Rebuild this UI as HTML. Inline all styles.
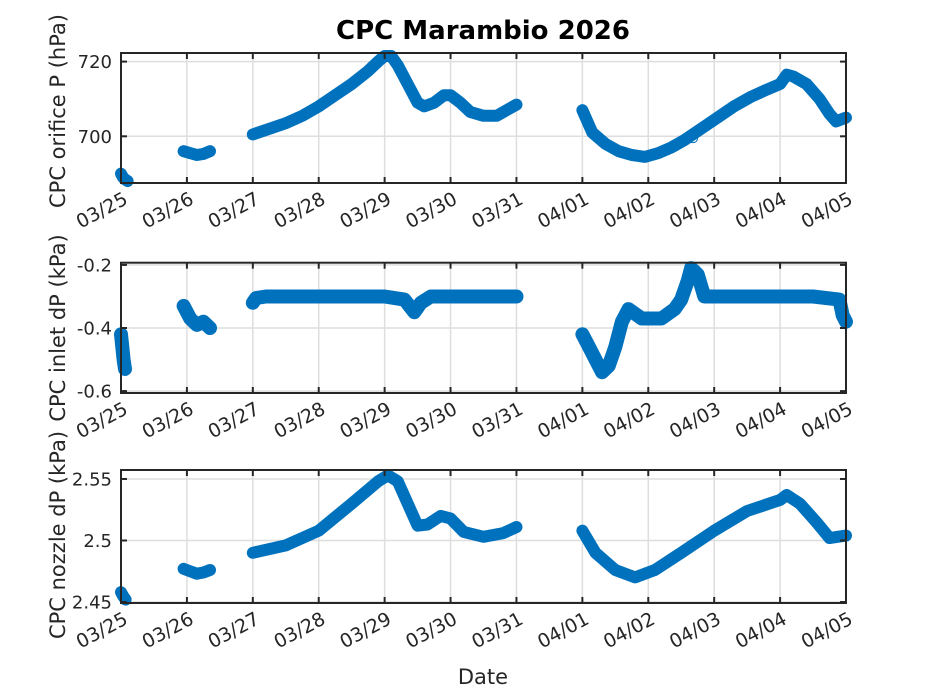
<!DOCTYPE html>
<html><head><meta charset="utf-8"><style>
body{margin:0;background:#fff}
svg{display:block;font-family:"DejaVu Sans","Liberation Sans",sans-serif}
</style></head><body>
<svg id="fig" width="933" height="700" viewBox="0 0 933 700">
<rect width="933" height="700" fill="#fff"/>
<text x="483" y="39" text-anchor="middle" font-size="26" font-weight="bold" fill="#000">CPC Marambio 2026</text>
<text x="483" y="684" text-anchor="middle" font-size="21" fill="#262626">Date</text>
</svg>
<script>
const xTickLabels=["03/25","03/26","03/27","03/28","03/29","03/30","03/31","04/01","04/02","04/03","04/04","04/05"];
// plot 1: orifice pressure (hPa)
const p1T=[[0,0.03,0.06,0.1],[0.95,1.05,1.15,1.25,1.35],[2.0,2.25,2.5,2.75,3.0,3.25,3.5,3.75,3.9,4.0,4.1,4.2,4.35,4.5,4.6,4.75,4.9,5.0,5.15,5.3,5.5,5.7,5.85,6.0],[7.0,7.15,7.35,7.55,7.75,7.95,8.15,8.35,8.55,8.8,9.05,9.3,9.55,9.8,10.0,10.1,10.2,10.4,10.6,10.75,10.85,11.0],[8.68]];
const p1V=[[690,689,688.5,688],[696,695.5,695,695.3,696],[700.5,702,703.5,705.5,708,711,714,717.5,720,721.5,721.5,719,714,709,708,709,711,711,709,706.5,705.5,705.5,707,708.5],[707,701,698,696,695,694.5,695.5,697,699,702,705,708,710.5,712.5,714,716.5,716,714,710,706,704,705],[699.5]];
const p1Ticks=[700,720];
// plot 2: inlet dP (kPa)
const p2T=[[0,0.02,0.04,0.06],[0.95,1.05,1.15,1.25,1.35],[2.0,2.05,2.2,3.0,4.0,4.3,4.45,4.55,4.7,5.0,5.5,6.0],[7.0,7.1,7.2,7.3,7.4,7.5,7.6,7.7,7.9,8.2,8.4,8.5,8.6,8.65,8.75,8.85,9.0,9.5,10.0,10.5,10.9,10.95,11.0]];
const p2V=[[-0.42,-0.46,-0.5,-0.53],[-0.33,-0.37,-0.39,-0.38,-0.4],[-0.32,-0.305,-0.3,-0.3,-0.3,-0.31,-0.35,-0.32,-0.3,-0.3,-0.3,-0.3],[-0.42,-0.46,-0.5,-0.54,-0.52,-0.46,-0.38,-0.34,-0.37,-0.37,-0.34,-0.31,-0.25,-0.21,-0.23,-0.3,-0.3,-0.3,-0.3,-0.3,-0.31,-0.36,-0.38]];
const p2Ticks=[-0.6,-0.4,-0.2];
// plot 3: nozzle dP (kPa)
const p3T=[[0,0.03,0.07],[0.95,1.05,1.15,1.25,1.35],[2.0,2.5,3.0,3.5,3.9,4.05,4.2,4.35,4.5,4.65,4.85,5.0,5.2,5.5,5.8,6.0],[7.0,7.2,7.5,7.8,8.1,8.5,9.0,9.5,10.0,10.1,10.3,10.55,10.75,11.0]];
const p3V=[[2.458,2.455,2.452],[2.477,2.475,2.473,2.474,2.476],[2.49,2.496,2.508,2.53,2.548,2.553,2.548,2.53,2.512,2.513,2.52,2.518,2.507,2.503,2.506,2.511],[2.508,2.49,2.476,2.47,2.476,2.49,2.508,2.524,2.533,2.537,2.53,2.515,2.502,2.504]];
const p3Ticks=[2.45,2.5,2.55];

const NS="http://www.w3.org/2000/svg";
const svg=document.getElementById('fig');
const X0=121,X1=846,XMAX=11;
function xs(t){return X0+(X1-X0)*t/XMAX;}
function mk(tag,attrs,parent){const e=document.createElementNS(NS,tag);for(const k in attrs)e.setAttribute(k,attrs[k]);(parent||svg).appendChild(e);return e;}

function panel(name,top,bot,ymin,ymax,ticks,tickFmt,ylabel,T,V,labelY,bandW){
  const g=mk('g',{});
  
  
  const ys=v=>bot-(v-ymin)/(ymax-ymin)*(bot-top);
  for(let i=0;i<xTickLabels.length;i++){
    const x=xs(i);
    const l=mk('line',{x1:x,x2:x,y1:top,y2:bot,stroke:'#dedede','stroke-width':1.5},g);
    
    
  }
  ticks.forEach(v=>{
    const y=ys(v);
    const l=mk('line',{x1:X0,x2:X1,y1:y,y2:y,stroke:'#dedede','stroke-width':1.5},g);
    
    
  });
  const dg=mk('g',{},g);
  
  
  for(let s=0;s<T.length;s++){
    const pts=T[s].map((t,i)=>xs(t).toFixed(1)+','+ys(V[s][i]).toFixed(1)).join(' ');
    if(T[s].length>1){
      const pl=mk('polyline',{points:pts,fill:'none',stroke:'#0072bd','stroke-width':bandW,'stroke-linejoin':'round','stroke-linecap':'round'},dg);
      
      
    }
    T[s].forEach((t,i)=>{
      const c=mk('circle',{cx:xs(t),cy:ys(V[s][i]),r:4.5,fill:'none',stroke:'#0072bd','stroke-width':1},dg);
      
      
    });
  }
  const b=mk('rect',{x:X0,y:top,width:X1-X0,height:bot-top,fill:'none',stroke:'#262626','stroke-width':2},g);
  
  
  xTickLabels.forEach((lab,i)=>{
    const x=xs(i);
    mk('line',{x1:x,x2:x,y1:bot,y2:bot-6,stroke:'#262626','stroke-width':2},g);
    mk('line',{x1:x,x2:x,y1:top,y2:top+6,stroke:'#262626','stroke-width':2},g);
    const tx=mk('text',{x:x+8,y:bot+20,'text-anchor':'end','font-size':19,fill:'#262626',transform:`rotate(-28 ${x+8} ${bot+20})`},g);
    tx.textContent=lab;
    
    
  });
  ticks.forEach(v=>{
    const y=ys(v);
    mk('line',{x1:X0,x2:X0+6,y1:y,y2:y,stroke:'#262626','stroke-width':2},g);
    mk('line',{x1:X1,x2:X1-6,y1:y,y2:y,stroke:'#262626','stroke-width':2},g);
    const tx=mk('text',{x:X0-9,y:y+6.5,'text-anchor':'end','font-size':18,fill:'#262626'},g);
    tx.textContent=tickFmt(v);
    
    
  });
  const yl=mk('text',{x:0,y:0,'text-anchor':'middle','font-size':21,fill:'#262626',transform:`translate(65 ${labelY}) rotate(-90)`},g);
  yl.textContent=ylabel;
  
  
}
panel('orifice-pressure-panel',53,183,687.5,722.3,p1Ticks,v=>String(v),'CPC orifice P  (hPa)',p1T,p1V,111,12);
panel('inlet-dp-panel',262.7,393,-0.606,-0.193,p2Ticks,v=>v.toFixed(1),'CPC inlet dP  (kPa)',p2T,p2V,328,14);
panel('nozzle-dp-panel',470,603,2.4492,2.5573,p3Ticks,v=>(v===2.5?'2.5':v.toFixed(2)),'CPC nozzle  dP  (kPa)',p3T,p3V,535,12);
</script>
</body></html>
